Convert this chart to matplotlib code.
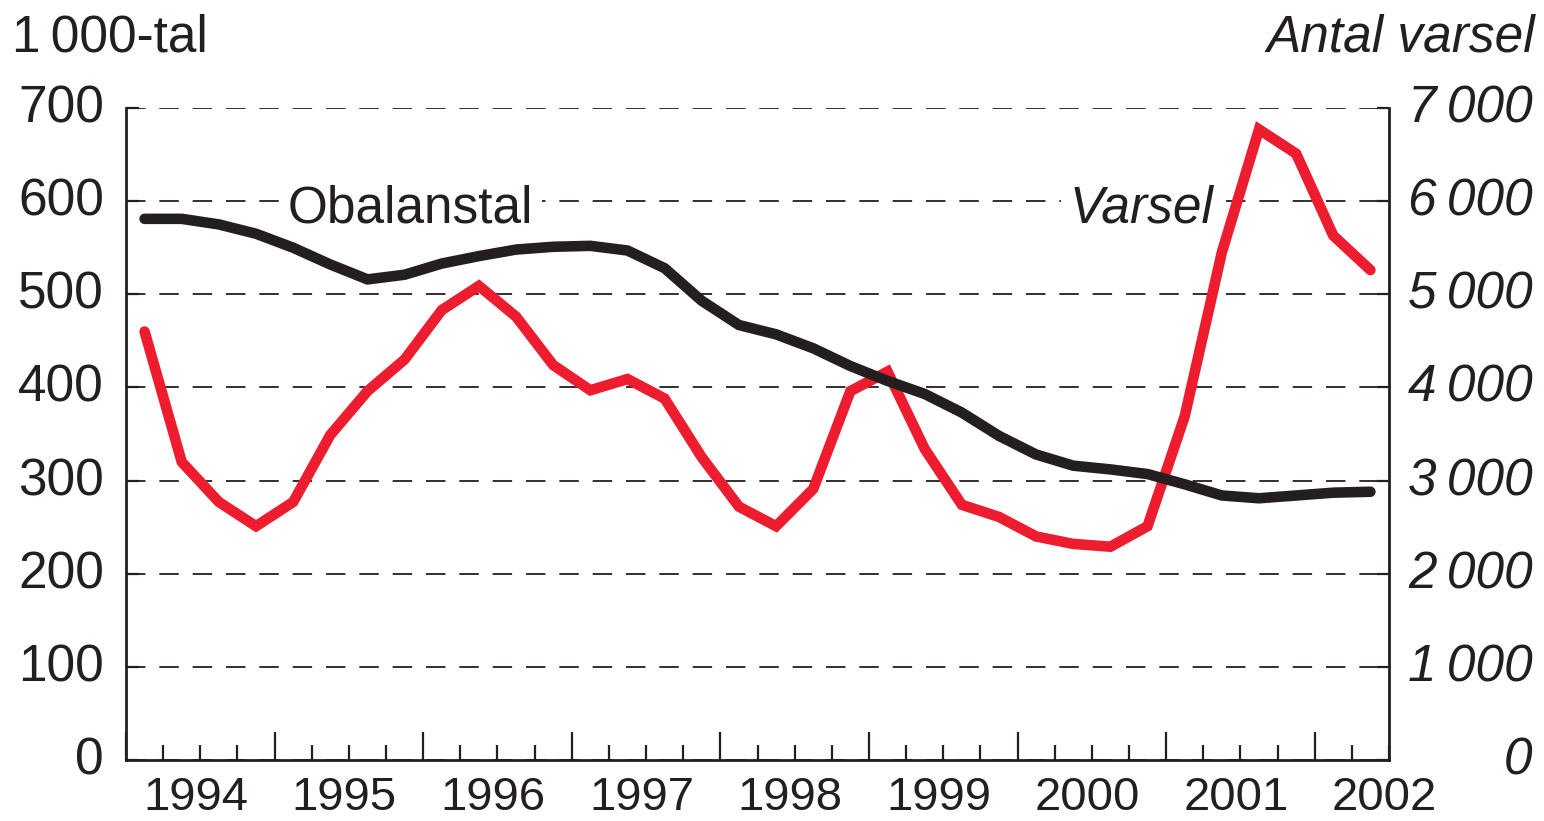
import matplotlib
matplotlib.use("Agg")
import matplotlib.pyplot as plt
import matplotlib.transforms as mtrans
import numpy as np

# ---------------- data ----------------
start_year = 1994
obalanstal = [581, 581, 575, 565, 550, 532, 516, 521, 533, 541, 548, 551,
              552, 547, 528, 493, 467, 457, 442, 423, 407, 393, 373, 348,
              328, 316, 312, 307, 296, 284, 281, 284, 287, 288]
varsel = [4600, 3200, 2770, 2510, 2770, 3490, 3960, 4300, 4830, 5090, 4760,
          4240, 3970, 4090, 3880, 3250, 2720, 2510, 2910, 3960, 4170, 3340,
          2740, 2610, 2400, 2320, 2290, 2510, 3690, 5450, 6770, 6510, 5630,
          5260]
year_labels = ["1994", "1995", "1996", "1997", "1998", "1999", "2000",
               "2001", "2002"]
left_ticks = [0, 100, 200, 300, 400, 500, 600, 700]
right_ticks = [0, 1000, 2000, 3000, 4000, 5000, 6000, 7000]
right_labels = ["0", "1\u2009000", "2\u2009000", "3\u2009000", "4\u2009000",
                "5\u2009000", "6\u2009000", "7\u2009000"]
left_title = "1\u2009000-tal"
right_title = "Antal varsel"
label_black = "Obalanstal"
label_red = "Varsel"

# ---------------- style ----------------
plt.rcParams["font.family"] = ["Liberation Sans", "DejaVu Sans"]
plt.rcParams["lines.scale_dashes"] = False
INK = "#231F20"
RED = "#ED1C2E"
FS = 37
FSX = 34

W, H = 1544, 821
fig = plt.figure(figsize=(W / 100, H / 100), dpi=100)
x0, x1, ybot, ytop = 126, 1389, 760, 108
ax2 = fig.add_axes([x0 / W, 1 - ybot / H, (x1 - x0) / W, (ybot - ytop) / H])
ax = fig.add_axes(ax2.get_position(), sharex=ax2)
ax.set_zorder(3)
ax.patch.set_visible(False)

n = len(obalanstal)
x = start_year + (np.arange(n) + 0.5) / 4.0
xmax = start_year + n / 4.0

ax.set_xlim(start_year, xmax)
ax.set_ylim(0, 700)
ax2.set_ylim(0, 7000)

# grid on the lower axes so it sits behind the lines
ax2.set_yticks(right_ticks)
ax2.yaxis.grid(True, color=INK, lw=1.3, linestyle=(0, (14, 10)))
ax2.set_axisbelow(True)

ax2.plot(x, varsel, color=RED, lw=7.6, solid_capstyle="round",
         solid_joinstyle="miter", zorder=3)
ax.plot(x, obalanstal, color=INK, lw=7.6, solid_capstyle="round",
        solid_joinstyle="miter", zorder=4)

# series labels (white box interrupts the dashed grid, stays under lines)
box = dict(facecolor="white", edgecolor="none", pad=6)
ax2.text(1995.09, 577, label_black, transform=ax.transData, ha="left",
         va="baseline", fontsize=FS, color=INK, bbox=box, zorder=2)
ax2.text(2000.35, 577, label_red, transform=ax.transData, ha="left",
         va="baseline", fontsize=FS, color=INK, fontstyle="italic",
         bbox=box, zorder=2)

# spines
for s in ["top", "right", "left", "bottom"]:
    ax2.spines[s].set_visible(False)
ax.spines["top"].set_visible(False)
for s in ["left", "right", "bottom"]:
    ax.spines[s].set_color(INK)
    ax.spines[s].set_linewidth(2.0)

# x ticks
ax.set_xticks(np.arange(start_year, int(xmax) + 1, 1.0))
ax.set_xticks(np.arange(start_year, xmax + 0.01, 0.25), minor=True)
ax.tick_params(axis="x", which="major", direction="in", length=20, width=1.6,
               color=INK, labelbottom=False)
ax.tick_params(axis="x", which="minor", direction="in", length=11, width=1.6,
               color=INK, labelbottom=False)
ax2.tick_params(axis="x", which="both", length=0, labelbottom=False)

# year labels
xt = ax.get_xaxis_transform()
ybase = -(810 - ybot) / (ybot - ytop)
for i, lab in enumerate(year_labels):
    yr = start_year + i
    pos = yr + 0.47 if yr + 0.5 <= xmax else yr + 0.37
    ax.text(pos, ybase, lab, transform=xt, ha="center", va="baseline",
            fontsize=FSX, color=INK)

# left y ticks
ax.set_yticks(left_ticks)
ax.set_yticklabels([str(v) for v in left_ticks])
ax.tick_params(axis="y", direction="in", length=9, width=1.6, color=INK,
               pad=16, labelsize=FS, labelcolor=INK)

# right y ticks
ax.yaxis.set_ticks_position("left")
ax2.yaxis.tick_right()
ax2.set_yticklabels(right_labels, fontstyle="italic")
ax2.tick_params(axis="y", direction="in", length=9, width=1.6, color=INK,
                pad=103.5, labelsize=FS, labelcolor=INK)
for lbl in ax2.get_yticklabels():
    lbl.set_horizontalalignment("right")

# nudge y tick labels slightly upward as in the reference
lift = mtrans.ScaledTranslation(0, 0.045, fig.dpi_scale_trans)
for t in ax.yaxis.get_major_ticks():
    t.label1.set_transform(t.label1.get_transform() + lift)
for t in ax2.yaxis.get_major_ticks():
    t.label2.set_transform(t.label2.get_transform() + lift)

# titles
fig.text(12 / W, 1 - 52 / H, left_title, ha="left", va="baseline",
         fontsize=FS, color=INK)
fig.text(1535 / W, 1 - 52 / H, right_title, ha="right", va="baseline",
         fontsize=FS, color=INK, fontstyle="italic")

fig.savefig("out.png", dpi=100)
